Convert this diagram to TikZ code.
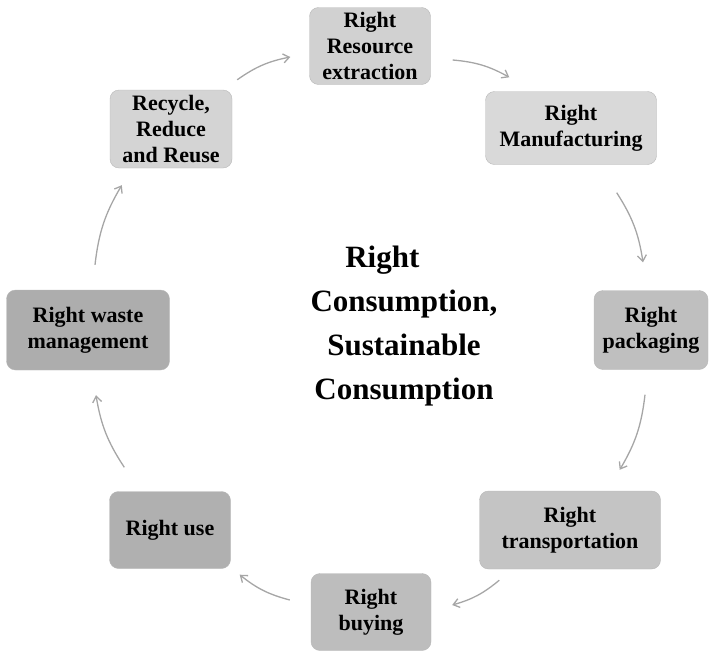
\documentclass[tikz,border=0pt]{standalone}
\usepackage{fontspec}
\setmainfont{Liberation Serif}
\usepackage{tikz}
\usetikzlibrary{calc}
\usetikzlibrary{arrows.meta}
\usetikzlibrary{positioning}

\begin{document}
\begin{tikzpicture}[x=1pt, y=-1pt]
				\tikzstyle{stagenode}=[draw=black!28, rounded corners=9pt, align=center, text=black, inner sep=2pt, font=\fontsize{22}{26}\selectfont\bfseries]
				\tikzstyle{flowarrow}=[-{Straight Barb[length=6pt,width=9pt]}, line width=1.3pt, draw=black!35, bend left=12]
				
				\useasboundingbox (0,0) rectangle (710,653);
				
				\node (r0) at (370,46) [stagenode, fill=black!18, minimum width=121pt, minimum height=77pt] {Right\\Resource\\extraction};
				\node (r1) at (571,128) [stagenode, fill=black!15, minimum width=171pt, minimum height=73pt] {Right\\Manufacturing};
				\node (r2) at (651,330) [stagenode, fill=black!25, minimum width=114pt, minimum height=79pt] {Right\\packaging};
				\node (r3) at (570,530) [stagenode, fill=black!23, minimum width=181pt, minimum height=78pt] {Right\\transportation};
				\node (r4) at (371,612) [stagenode, fill=black!26, minimum width=120pt, minimum height=77pt] {Right\\buying};
				\node (r5) at (170,530) [stagenode, fill=black!31, minimum width=121pt, minimum height=77pt] {Right use};
				\node (r6) at (88,330) [stagenode, fill=black!32, minimum width=163pt, minimum height=80pt] {Right waste\\management};
				\node (r7) at (171,129) [stagenode, fill=black!17, minimum width=122pt, minimum height=78pt] {Recycle,\\Reduce\\and Reuse};
				
				\node (ctr) at (404,326) [align=center, font=\fontsize{31}{44}\selectfont\bfseries] {Right\hspace*{1.4em}\\Consumption,\\Sustainable\\Consumption};
				
				\draw [flowarrow] ([shift={(5,-10)}]r7.north east) to ([shift={(-19,11)}]r0.west);
				\draw [flowarrow] ([shift={(22,14)}]r0.east) to ([shift={(24,-14)}]r1.north west);
				\draw [flowarrow] ([shift={(-40,28)}]r1.south east) to ([shift={(-8,-28)}]r2.north);
				\draw [flowarrow] ([shift={(-6,25)}]r2.south) to ([shift={(-41,-21)}]r3.north east);
				\draw [flowarrow] ([shift={(20,11)}]r3.south west) to ([shift={(21,-7)}]r4.east);
				\draw [flowarrow] ([shift={(-21,-12)}]r4.west) to ([shift={(9,6)}]r5.south east);
				\draw [flowarrow] ([shift={(15,-24)}]r5.north west) to ([shift={(8,25)}]r6.south);
				\draw [flowarrow] ([shift={(7,-25)}]r6.north) to ([shift={(12,17)}]r7.south west);
				
\end{tikzpicture}
\end{document}
